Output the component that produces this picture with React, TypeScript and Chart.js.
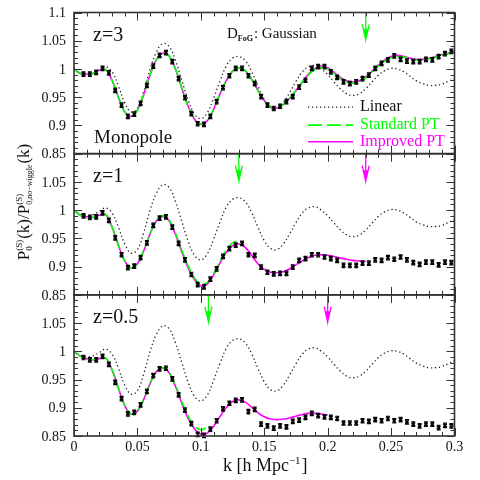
import React, { useEffect, useRef } from 'react';
import { Chart, registerables } from 'chart.js';

Chart.register(...registerables);

// ---------------- data ----------------
const K_POINTS = [
  0.0075, 0.0125, 0.0175, 0.0225, 0.0275, 0.0325, 0.0375, 0.0425, 0.0475, 0.0525,
  0.0575, 0.0625, 0.0675, 0.0725, 0.0775, 0.0825, 0.0875, 0.0925, 0.0975, 0.1025,
  0.1075, 0.1125, 0.1175, 0.1225, 0.1275, 0.1325, 0.1375, 0.1425, 0.1475, 0.1525,
  0.1575, 0.1625, 0.1675, 0.1725, 0.1775, 0.1825, 0.1875, 0.1925, 0.1975, 0.2025,
  0.2075, 0.2125, 0.2175, 0.2225, 0.2275, 0.2325, 0.2375, 0.2425, 0.2475, 0.2525,
  0.2575, 0.2625, 0.2675, 0.2725, 0.2775, 0.2825, 0.2875, 0.2925, 0.2975,
];

const K_CURVE = [
  0, 0.005, 0.01, 0.015, 0.02, 0.025, 0.03, 0.035, 0.04, 0.045,
  0.05, 0.055, 0.06, 0.065, 0.07, 0.075, 0.08, 0.085, 0.09, 0.095,
  0.1, 0.105, 0.11, 0.115, 0.12, 0.125, 0.13, 0.135, 0.14, 0.145,
  0.15, 0.155, 0.16, 0.165, 0.17, 0.175, 0.18, 0.185, 0.19, 0.195,
  0.2, 0.205, 0.21, 0.215, 0.22, 0.225, 0.23, 0.235, 0.24, 0.245,
  0.25, 0.255, 0.26, 0.265, 0.27, 0.275, 0.28, 0.285, 0.29, 0.295, 0.3,
];

const LINEAR = [
  1.0, 0.993, 0.99, 0.992, 0.998, 1.004, 0.995, 0.97, 0.94, 0.924,
  0.93, 0.96, 1.0, 1.03, 1.045, 1.04, 1.015, 0.98, 0.945, 0.92,
  0.912, 0.922, 0.948, 0.978, 1.005, 1.019, 1.022, 1.015, 0.996, 0.97,
  0.946, 0.932, 0.93, 0.94, 0.958, 0.978, 0.995, 1.004, 1.006, 1.0,
  0.99, 0.977, 0.965, 0.956, 0.953, 0.956, 0.965, 0.977, 0.989, 0.997,
  1.001, 1.0, 0.995, 0.987, 0.979, 0.974, 0.971, 0.971, 0.973, 0.978, 0.983,
];

// z = 3
const Z3_POINTS = [
  0.991, 0.991, 0.994, 1.001, 0.993, 0.962, 0.936, 0.916, 0.92, 0.939,
  0.971, 1.005, 1.024, 1.029, 1.013, 0.983, 0.949, 0.921, 0.903, 0.902,
  0.916, 0.942, 0.967, 0.988, 1.001, 1.001, 0.988, 0.974, 0.951, 0.936,
  0.93, 0.934, 0.942, 0.951, 0.968, 0.98, 1.001, 1.004, 1.004, 0.995,
  0.985, 0.977, 0.974, 0.977, 0.983, 0.989, 1.001, 1.01, 1.016, 1.023,
  1.017, 1.014, 1.013, 1.013, 1.017, 1.016, 1.022, 1.027, 1.031,
];
const Z3_IMPROVED = [
  1.0, 0.992, 0.991, 0.992, 0.998, 0.999, 0.98, 0.95, 0.924, 0.916,
  0.927, 0.955, 0.99, 1.017, 1.028, 1.023, 1.0, 0.966, 0.934, 0.911,
  0.902, 0.908, 0.928, 0.955, 0.979, 0.996, 1.002, 0.997, 0.982, 0.962,
  0.944, 0.933, 0.931, 0.937, 0.948, 0.962, 0.977, 0.991, 1.001, 1.005,
  1.002, 0.994, 0.985, 0.979, 0.977, 0.979, 0.986, 0.996, 1.007, 1.016,
  1.022, 1.024, 1.022, 1.019, 1.017, 1.017, 1.019, 1.022, 1.025, 1.028, 1.031,
];
const Z3_STANDARD = [
  1.0, 0.992, 0.991, 0.992, 0.998, 0.999, 0.98, 0.95, 0.924, 0.916,
  0.927, 0.955, 0.99, 1.017, 1.028, 1.023, 1.0, 0.966, 0.934, 0.911,
  0.902, 0.908, 0.928, 0.955, 0.979, 0.996, 1.002, 0.997, 0.982, 0.962,
  0.944, 0.933, 0.931, 0.937, 0.948, 0.962, 0.977, 0.99, 0.999, 1.003,
  1.0, 0.992, 0.983, 0.977, 0.975, 0.977, 0.984, 0.994, 1.005, 1.014,
  1.02, 1.022, 1.021, 1.018, 1.016, 1.016, 1.018, 1.021, 1.024, 1.027, 1.03,
];

// z = 1
const Z1_POINTS = [
  0.99, 0.987, 0.988, 0.995, 0.982, 0.951, 0.921, 0.898, 0.901, 0.916,
  0.942, 0.973, 0.986, 0.988, 0.97, 0.941, 0.912, 0.886, 0.868, 0.864,
  0.878, 0.896, 0.918, 0.932, 0.938, 0.941, 0.921, 0.92, 0.899, 0.89,
  0.887, 0.888, 0.888, 0.899, 0.911, 0.914, 0.921, 0.921, 0.917, 0.914,
  0.911, 0.902, 0.902, 0.902, 0.906, 0.906, 0.912, 0.911, 0.916, 0.913,
  0.917, 0.912, 0.907, 0.904, 0.908, 0.908, 0.903, 0.908, 0.907,
];
const Z1_IMPROVED = [
  1.0, 0.991, 0.988, 0.987, 0.991, 0.992, 0.97, 0.938, 0.91, 0.898,
  0.905, 0.928, 0.958, 0.981, 0.989, 0.981, 0.957, 0.926, 0.898, 0.877,
  0.866, 0.869, 0.885, 0.906, 0.925, 0.937, 0.94, 0.934, 0.92, 0.905,
  0.895, 0.89, 0.889, 0.891, 0.896, 0.903, 0.91, 0.916, 0.92, 0.921,
  0.92, 0.918, 0.915, 0.913, 0.911, 0.91, 0.909,
];
const Z1_STANDARD = [
  1.0, 0.991, 0.988, 0.987, 0.991, 0.992, 0.97, 0.938, 0.91, 0.898,
  0.905, 0.928, 0.958, 0.981, 0.99, 0.983, 0.959, 0.929, 0.901, 0.88,
  0.869, 0.872, 0.887, 0.909, 0.929, 0.942, 0.946,
];

// z = 0.5
const Z05_POINTS = [
  0.989, 0.985, 0.985, 0.991, 0.977, 0.945, 0.916, 0.889, 0.892, 0.905,
  0.929, 0.957, 0.969, 0.97, 0.951, 0.923, 0.896, 0.872, 0.853, 0.851,
  0.862, 0.877, 0.898, 0.908, 0.913, 0.914, 0.893, 0.897, 0.871, 0.868,
  0.864, 0.868, 0.866, 0.876, 0.878, 0.883, 0.89, 0.886, 0.884, 0.883,
  0.881, 0.873, 0.873, 0.873, 0.877, 0.876, 0.879, 0.877, 0.881, 0.877,
  0.879, 0.875, 0.871, 0.868, 0.871, 0.871, 0.865, 0.869, 0.868,
];
const Z05_IMPROVED = [
  1.0, 0.991, 0.987, 0.985, 0.987, 0.988, 0.967, 0.935, 0.904, 0.889,
  0.894, 0.915, 0.943, 0.964, 0.97, 0.962, 0.938, 0.908, 0.881, 0.863,
  0.853, 0.855, 0.867, 0.884, 0.9, 0.911, 0.914, 0.91, 0.901, 0.891,
  0.884, 0.88, 0.879, 0.88, 0.882, 0.885, 0.888, 0.89, 0.89, 0.889, 0.887,
];
const Z05_STANDARD = [
  1.0, 0.991, 0.987, 0.985, 0.987, 0.988, 0.967, 0.935, 0.904, 0.889,
  0.894, 0.915, 0.943, 0.964, 0.971, 0.963, 0.94, 0.911, 0.885, 0.868,
  0.861, 0.866,
];

const ERR_Z3 = 0.004;
const ERR_Z1 = 0.004;
const ERR_Z05 = 0.004;

// arrows marking validity range (k values)
const Z3_ARROWS_STANDARD = [0.23];
const Z1_ARROWS_STANDARD = [0.13];
const Z1_ARROWS_IMPROVED = [0.23];
const Z05_ARROWS_STANDARD = [0.106];
const Z05_ARROWS_IMPROVED = [0.2];

const PANEL_LABELS = ['z=3', 'z=1', 'z=0.5'];
const LEGEND_LABELS = ['Linear', 'Standard PT', 'Improved PT'];

const X_TICK_VALUES = [0, 0.05, 0.1, 0.15, 0.2, 0.25, 0.3];
const X_TICK_LABELS = ['0', '0.05', '0.1', '0.15', '0.2', '0.25', '0.3'];
const Y_TICK_VALUES = [0.85, 0.9, 0.95, 1.0, 1.05, 1.1];
const Y_TICK_LABELS = ['0.85', '0.9', '0.95', '1', '1.05', '1.1'];

const PANEL_MIN = 0.85;
const PANEL_MAX = 1.1;

// ---------------- styles ----------------
const GREEN = '#00ff00';
const MAGENTA = '#ff00ff';
const FRAME = '#333333';
const SERIF = '"Liberation Serif", "Times New Roman", serif';

const pairs = (xs: number[], ys: number[]) => ys.map((y, i) => ({ x: xs[i], y }));

function arrowData(k: number) {
  const top = 1.1;
  const tip = 1.052;
  const headY = 1.079;
  const headY2 = 1.071;
  return [
    { x: k, y: top },
    { x: k, y: tip },
    { x: k, y: null },
    { x: k - 0.0028, y: headY },
    { x: k, y: tip },
    { x: k + 0.0028, y: headY },
    { x: k, y: null },
    { x: k - 0.0012, y: headY2 },
    { x: k, y: tip },
    { x: k + 0.0012, y: headY2 },
  ];
}

const panels = [
  {
    scale: 'yTop', label: PANEL_LABELS[0], points: Z3_POINTS, err: ERR_Z3,
    std: Z3_STANDARD, imp: Z3_IMPROVED,
    arrowsStd: Z3_ARROWS_STANDARD, arrowsImp: [] as number[],
  },
  {
    scale: 'yMid', label: PANEL_LABELS[1], points: Z1_POINTS, err: ERR_Z1,
    std: Z1_STANDARD, imp: Z1_IMPROVED,
    arrowsStd: Z1_ARROWS_STANDARD, arrowsImp: Z1_ARROWS_IMPROVED,
  },
  {
    scale: 'yBot', label: PANEL_LABELS[2], points: Z05_POINTS, err: ERR_Z05,
    std: Z05_STANDARD, imp: Z05_IMPROVED,
    arrowsStd: Z05_ARROWS_STANDARD, arrowsImp: Z05_ARROWS_IMPROVED,
  },
];

function buildDatasets() {
  const ds: any[] = [];
  panels.forEach((p) => {
    ds.push({
      label: 'N-body ' + p.label,
      data: pairs(K_POINTS, p.points),
      yAxisID: p.scale,
      showLine: false,
      pointStyle: 'crossRot',
      pointRadius: 2.4,
      pointBorderWidth: 1.6,
      pointBorderColor: '#000',
      pointBackgroundColor: '#000',
      borderColor: '#000',
      errBar: p.err,
    });
    ds.push({
      label: 'Standard PT ' + p.label,
      data: pairs(K_CURVE, p.std),
      yAxisID: p.scale,
      borderColor: GREEN,
      borderWidth: 1.6,
      borderDash: [11, 4],
      pointRadius: 0,
      tension: 0.4,
      fill: false,
    });
    ds.push({
      label: 'Improved PT ' + p.label,
      data: pairs(K_CURVE, p.imp),
      yAxisID: p.scale,
      borderColor: MAGENTA,
      borderWidth: 1.6,
      pointRadius: 0,
      tension: 0.4,
      fill: false,
    });
    ds.push({
      label: 'Linear ' + p.label,
      data: pairs(K_CURVE, LINEAR),
      yAxisID: p.scale,
      borderColor: '#222',
      borderWidth: 1.3,
      borderDash: [1.3, 2.7],
      pointRadius: 0,
      tension: 0.4,
      fill: false,
    });
    p.arrowsStd.forEach((k) => {
      ds.push({
        label: 'arrow', data: arrowData(k), yAxisID: p.scale,
        borderColor: GREEN, borderWidth: 1.3, pointRadius: 0, tension: 0, spanGaps: false,
      });
    });
    p.arrowsImp.forEach((k) => {
      ds.push({
        label: 'arrow', data: arrowData(k), yAxisID: p.scale,
        borderColor: MAGENTA, borderWidth: 1.3, pointRadius: 0, tension: 0, spanGaps: false,
      });
    });
  });
  return ds;
}

function drawRich(ctx: CanvasRenderingContext2D, parts: any[], x: number, y: number, align: 'left' | 'center') {
  // parts: {t, font} or {sup, sub, supFont, subFont, supDy, subDy}
  const widths = parts.map((p) => {
    if (p.t !== undefined) { ctx.font = p.font; return ctx.measureText(p.t).width; }
    ctx.font = p.supFont; const a = p.sup ? ctx.measureText(p.sup).width : 0;
    ctx.font = p.subFont; const b = p.sub ? ctx.measureText(p.sub).width : 0;
    return Math.max(a, b) + 1;
  });
  const total = widths.reduce((s, w) => s + w, 0);
  let cx = align === 'center' ? x - total / 2 : x;
  ctx.textAlign = 'left';
  ctx.textBaseline = 'alphabetic';
  parts.forEach((p, i) => {
    if (p.t !== undefined) {
      ctx.font = p.font; ctx.fillText(p.t, cx, y);
    } else {
      if (p.sup) { ctx.font = p.supFont; ctx.fillText(p.sup, cx, y + p.supDy); }
      if (p.sub) { ctx.font = p.subFont; ctx.fillText(p.sub, cx, y + p.subDy); }
    }
    cx += widths[i];
  });
}

const framePlugin = {
  id: 'framePlugin',
  afterDraw(chart: any) {
    const ctx: CanvasRenderingContext2D = chart.ctx;
    const xs = chart.scales.x;
    const left = xs.left;
    const right = xs.right;
    ctx.save();

    panels.forEach((p, pi) => {
      const ys = chart.scales[p.scale];
      const top = ys.getPixelForValue(PANEL_MAX);
      const bottom = ys.getPixelForValue(PANEL_MIN);

      // ticks
      ctx.strokeStyle = FRAME;
      ctx.lineWidth = 1;
      ctx.beginPath();
      for (let i = 0; i <= 30; i++) {
        const k = i * 0.01;
        const px = Math.round(xs.getPixelForValue(k)) + 0.5;
        const len = i % 5 === 0 ? 8 : 4;
        ctx.moveTo(px, bottom); ctx.lineTo(px, bottom - len);
        ctx.moveTo(px, top); ctx.lineTo(px, top + len);
      }
      for (let i = 0; i <= 25; i++) {
        const v = PANEL_MIN + i * 0.01;
        const py = Math.round(ys.getPixelForValue(v)) + 0.5;
        const len = i % 5 === 0 ? 8 : 4;
        ctx.moveTo(left, py); ctx.lineTo(left + len, py);
        ctx.moveTo(right, py); ctx.lineTo(right - len, py);
      }
      ctx.stroke();

      // frame
      ctx.lineWidth = 1.6;
      ctx.strokeRect(left, top, right - left, bottom - top);

      // y tick labels
      ctx.fillStyle = '#111';
      ctx.font = '14px ' + SERIF;
      ctx.textAlign = 'right';
      ctx.textBaseline = 'middle';
      Y_TICK_VALUES.forEach((v, i) => {
        if (pi > 0 && v === PANEL_MAX) return;
        ctx.fillText(Y_TICK_LABELS[i], left - 8, ys.getPixelForValue(v) + 1);
      });

      // panel label
      ctx.font = '20px ' + SERIF;
      ctx.textAlign = 'left';
      ctx.textBaseline = 'alphabetic';
      ctx.fillText(p.label, left + 19, top + 28.5);

      if (pi === 0) {
        ctx.font = '19px ' + SERIF;
        ctx.fillText('Monopole', left + 20, ys.getPixelForValue(0.87) + 1);

        // D_FoG: Gaussian
        drawRich(ctx, [
          { t: 'D', font: '15px ' + SERIF },
          { sub: 'FoG', subFont: 'bold 8px ' + SERIF, subDy: 3, supFont: '8px ' + SERIF },
          { t: ': Gaussian', font: '15px ' + SERIF },
        ], left + 153, top + 25, 'left');

        // legend
        const lx0 = left + 234;
        const lx1 = left + 279;
        const tx = left + 286;
        const rows = [
          { y: ys.getPixelForValue(0.9325), color: '#222', dash: [1.3, 2.7], text: '#111' },
          { y: ys.getPixelForValue(0.9005), color: GREEN, dash: [14, 5], text: GREEN },
          { y: ys.getPixelForValue(0.871), color: MAGENTA, dash: [], text: MAGENTA },
        ];
        rows.forEach((r, i) => {
          ctx.save();
          ctx.strokeStyle = r.color;
          ctx.lineWidth = i === 0 ? 1.3 : 1.6;
          ctx.setLineDash(r.dash);
          ctx.beginPath();
          ctx.moveTo(lx0, r.y); ctx.lineTo(lx1, r.y);
          ctx.stroke();
          ctx.restore();
          ctx.fillStyle = r.text;
          ctx.font = '16px ' + SERIF;
          ctx.textAlign = 'left';
          ctx.textBaseline = 'alphabetic';
          ctx.fillText(LEGEND_LABELS[i], tx, r.y + 4);
        });
        ctx.fillStyle = '#111';
      }

      if (pi === panels.length - 1) {
        ctx.font = '14px ' + SERIF;
        ctx.textAlign = 'center';
        ctx.textBaseline = 'alphabetic';
        X_TICK_VALUES.forEach((k, i) => {
          ctx.fillText(X_TICK_LABELS[i], xs.getPixelForValue(k), bottom + 15);
        });
        // x title
        drawRich(ctx, [
          { t: 'k [h Mpc', font: '18px ' + SERIF },
          { sup: '\u22121', supFont: '11px ' + SERIF, supDy: -7, subFont: '11px ' + SERIF },
          { t: ']', font: '18px ' + SERIF },
        ], (left + right) / 2 + 1, bottom + 35, 'center');
      }
    });

    // y title (rotated)
    const yTop = chart.scales.yTop.getPixelForValue(PANEL_MAX);
    ctx.save();
    ctx.translate(29, 202);
    ctx.rotate(-Math.PI / 2);
    ctx.fillStyle = '#111';
    drawRich(ctx, [
      { t: 'P', font: '17px ' + SERIF },
      { sup: '(S)', sub: '0', supFont: '9px ' + SERIF, subFont: '9px ' + SERIF, supDy: -7, subDy: 3 },
      { t: '(k)/P', font: '17px ' + SERIF },
      { sup: '(S)', sub: '0,no\u2212wiggle', supFont: '9px ' + SERIF, subFont: '8px ' + SERIF, supDy: -7, subDy: 3 },
      { t: '(k)', font: '17px ' + SERIF },
    ], 0, 0, 'center');
    ctx.restore();
    void yTop;

    ctx.restore();
  },
};

const errorBarPlugin = {
  id: 'errorBarPlugin',
  afterDatasetsDraw(chart: any) {
    const ctx: CanvasRenderingContext2D = chart.ctx;
    ctx.save();
    ctx.strokeStyle = '#000';
    ctx.lineWidth = 1.2;
    chart.data.datasets.forEach((ds: any, i: number) => {
      if (!ds.errBar) return;
      const meta = chart.getDatasetMeta(i);
      const ys = chart.scales[ds.yAxisID];
      meta.data.forEach((el: any, j: number) => {
        const v = ds.data[j].y;
        const px = el.x;
        const yHi = ys.getPixelForValue(v + ds.errBar);
        const yLo = ys.getPixelForValue(v - ds.errBar);
        ctx.beginPath();
        ctx.moveTo(px, yHi); ctx.lineTo(px, yLo);
        ctx.moveTo(px - 2, yHi); ctx.lineTo(px + 2, yHi);
        ctx.moveTo(px - 2, yLo); ctx.lineTo(px + 2, yLo);
        ctx.stroke();
      });
    });
    ctx.restore();
  },
};

export default function App() {
  const canvasRef = useRef<HTMLCanvasElement | null>(null);

  useEffect(() => {
    if (!canvasRef.current) return;
    const span = PANEL_MAX - PANEL_MIN;
    const chart = new Chart(canvasRef.current, {
      type: 'line',
      data: { datasets: buildDatasets() },
      options: {
        animation: false,
        responsive: false,
        devicePixelRatio: 1,
        parsing: true,
        normalized: false,
        layout: { padding: { left: 74, right: 25.5, top: 12.5, bottom: 44 } },
        plugins: {
          legend: { display: false },
          tooltip: { enabled: false },
        },
        elements: { line: { capBezierPoints: true } },
        scales: {
          x: { type: 'linear', min: 0, max: 0.3, display: false },
          yTop: { type: 'linear', min: PANEL_MAX - 3 * span, max: PANEL_MAX, display: false },
          yMid: { type: 'linear', min: PANEL_MAX - 2 * span, max: PANEL_MAX + span, display: false },
          yBot: { type: 'linear', min: PANEL_MIN, max: PANEL_MAX + 2 * span, display: false },
        },
      } as any,
      plugins: [errorBarPlugin, framePlugin],
    });
    return () => chart.destroy();
  }, []);

  return (
    <div style={{ position: 'absolute', left: 0, top: 0, width: 480, height: 480, background: '#fff' }}>
      <canvas ref={canvasRef} width={480} height={480} style={{ width: 480, height: 480, display: 'block' }} />
    </div>
  );
}
